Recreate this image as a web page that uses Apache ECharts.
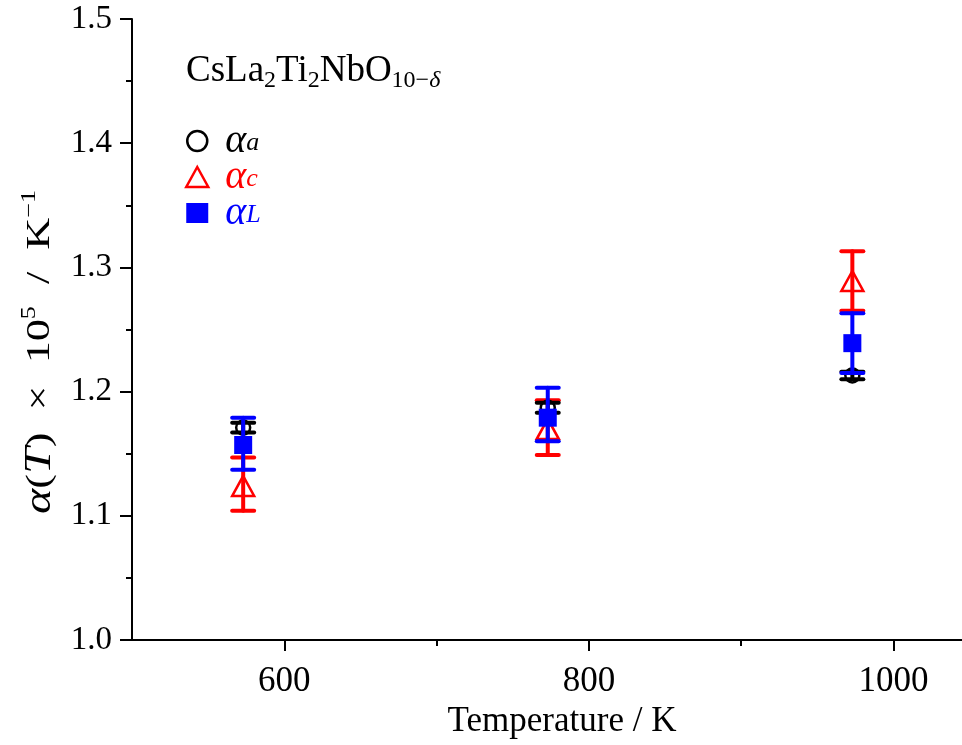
<!DOCTYPE html>
<html>
<head>
<meta charset="utf-8">
<title>CsLa2Ti2NbO10 thermal expansion</title>
<script src="https://cdn.jsdelivr.net/npm/echarts@6/dist/echarts.min.js"></script>
<style>
  html, body { margin: 0; padding: 0; background: #fff; }
  #chart { width: 962px; height: 745px; }
</style>
</head>
<body>
<div id="chart"></div>
<script>
// temperatures (K)
const temps = [573, 773, 973]

// alpha_a (black circles)
const alphaA = [1.171, 1.187, 1.213]
const alphaALo = [1.167, 1.183, 1.210]
const alphaAHi = [1.175, 1.191, 1.216]

// alpha_c (red triangles)
const alphaC = [1.124, 1.170, 1.289]
const alphaCLo = [1.104, 1.149, 1.265]
const alphaCHi = [1.147, 1.193, 1.313]

// alpha_L (blue squares)
const alphaL = [1.157, 1.179, 1.239]
const alphaLLo = [1.137, 1.160, 1.215]
const alphaLHi = [1.179, 1.203, 1.263]

const xMajor = [600, 800, 1000]
const xMinor = [700, 900]

const serif = '"Liberation Serif", "Times New Roman", serif'

function errorBars(name, lo, hi, color, z) {
  return {
    type: 'custom',
    name: name,
    z: z,
    data: temps.map((t, i) => [t, lo[i], hi[i]]),
    encode: { x: 0, y: [1, 2] },
    renderItem: function (params, api) {
      const top = api.coord([api.value(0), api.value(2)])
      const bot = api.coord([api.value(0), api.value(1)])
      const hw = 11
      const style = { stroke: color, lineWidth: 4, lineCap: 'round' }
      return {
        type: 'group',
        children: [
          { type: 'line', shape: { x1: top[0], y1: top[1], x2: bot[0], y2: bot[1] }, style: style },
          { type: 'line', shape: { x1: top[0] - hw, y1: top[1], x2: top[0] + hw, y2: top[1] }, style: style },
          { type: 'line', shape: { x1: bot[0] - hw, y1: bot[1], x2: bot[0] + hw, y2: bot[1] }, style: style }
        ]
      }
    }
  }
}

function legendRich(key, color) {
  const r = {}
  r['k' + key] = { fontFamily: serif, fontStyle: 'italic', fontSize: 40, lineHeight: 30, color: color, padding: [0, 0, 0, 12] }
  r['s' + key] = { fontFamily: serif, fontStyle: 'italic', fontSize: 26, lineHeight: 18, verticalAlign: 'bottom', color: color }
  return r
}

const chart = echarts.init(document.getElementById('chart'))

const option = {
  animation: false,
  backgroundColor: '#fff',
  title: {
    text: '{n|CsLa}{s|2}{n|Ti}{s|2}{n|NbO}{s|10−}{si|δ}',
    left: 181,
    top: 44,
    textStyle: {
      rich: {
        n: { fontFamily: serif, fontWeight: 'normal', fontSize: 37, lineHeight: 44, color: '#000' },
        s: { fontFamily: serif, fontWeight: 'normal', fontSize: 24, lineHeight: 22, verticalAlign: 'bottom', color: '#000' },
        si: { fontFamily: serif, fontWeight: 'normal', fontSize: 24, lineHeight: 22, fontStyle: 'italic', verticalAlign: 'bottom', color: '#000' }
      }
    }
  },
  legend: {
    orient: 'vertical',
    left: 180,
    top: 116,
    itemWidth: 22,
    itemHeight: 20,
    itemGap: -4,
    data: [
      { name: 'αa', itemStyle: { borderWidth: 2.5 } },
      { name: 'αc', itemStyle: { borderWidth: 2.5 } },
      { name: 'αL' }
    ],
    formatter: function (name) {
      const key = name.slice(1)
      return '{k' + key + '|α}{s' + key + '|' + key + '}'
    },
    textStyle: {
      rich: Object.assign({}, legendRich('a', '#000000'), legendRich('c', '#ff0000'), legendRich('L', '#0000ff'))
    }
  },
  graphic: [
    {
      type: 'text',
      x: 40,
      y: 352,
      rotation: Math.PI / 2,
      scaleX: 1.3,
      style: {
        text: '{i|α}{n|(}{i|T}{n|)  ×  10}{p|5}{n|  /  K}{p|−1}',
        align: 'center',
        verticalAlign: 'middle',
        rich: {
          i: { fontFamily: serif, fontStyle: 'italic', fontSize: 37, lineHeight: 40, fill: '#000' },
          n: { fontFamily: serif, fontSize: 34, lineHeight: 40, fill: '#000' },
          p: { fontFamily: serif, fontSize: 20, lineHeight: 20, verticalAlign: 'top', fill: '#000' }
        }
      }
    }
  ],
  grid: {
    left: 132,
    right: 0,
    top: 19,
    bottom: 105,
    outerBoundsMode: 'none'
  },
  xAxis: [
    {
      type: 'value',
      min: 500,
      max: 1045,
      name: 'Temperature / K',
      nameLocation: 'middle',
      nameGap: 62,
      nameTextStyle: { fontFamily: serif, fontSize: 35, color: '#000', padding: [0, 0, 0, 30] },
      splitLine: { show: false },
      axisLine: { lineStyle: { color: '#000', width: 2 } },
      axisTick: { customValues: xMajor, length: 11, lineStyle: { color: '#000', width: 2 } },
      axisLabel: {
        customValues: xMajor,
        fontFamily: serif,
        fontSize: 35,
        color: '#000',
        margin: 24,
        formatter: (v) => String(v)
      }
    },
    {
      type: 'value',
      min: 500,
      max: 1045,
      position: 'bottom',
      splitLine: { show: false },
      axisLine: { show: false },
      axisTick: { customValues: xMinor, length: 6, lineStyle: { color: '#000', width: 2 } },
      axisLabel: { show: false }
    }
  ],
  yAxis: {
    type: 'value',
    min: 1.0,
    max: 1.5,
    interval: 0.1,
    splitLine: { show: false },
    axisLine: { show: true, lineStyle: { color: '#000', width: 2 } },
    axisTick: { show: true, length: 12, lineStyle: { color: '#000', width: 2 } },
    minorTick: { show: true, splitNumber: 2, length: 6, lineStyle: { color: '#000', width: 2 } },
    axisLabel: {
      fontFamily: serif,
      fontSize: 33,
      color: '#000',
      margin: 20,
      formatter: (v) => v.toFixed(1)
    }
  },
  series: [
    errorBars('errC', alphaCLo, alphaCHi, '#ff0000', 2),
    {
      type: 'scatter',
      name: 'αc',
      z: 2,
      symbol: 'triangle',
      symbolSize: [22, 20],
      itemStyle: { color: 'rgba(255,255,255,0)', borderColor: '#ff0000', borderWidth: 2.5, opacity: 1 },
      data: temps.map((t, i) => [t, alphaC[i]])
    },
    errorBars('errA', alphaALo, alphaAHi, '#000000', 3),
    {
      type: 'scatter',
      name: 'αa',
      z: 3,
      symbol: 'circle',
      symbolSize: 14,
      itemStyle: { color: 'rgba(255,255,255,0)', borderColor: '#000000', borderWidth: 2.5, opacity: 1 },
      data: temps.map((t, i) => [t, alphaA[i]])
    },
    errorBars('errL', alphaLLo, alphaLHi, '#0000ff', 4),
    {
      type: 'scatter',
      name: 'αL',
      z: 4,
      symbol: 'rect',
      symbolSize: 18,
      itemStyle: { color: '#0000ff', opacity: 1 },
      data: temps.map((t, i) => [t, alphaL[i]])
    }
  ]
}

chart.setOption(option)
</script>
</body>
</html>
